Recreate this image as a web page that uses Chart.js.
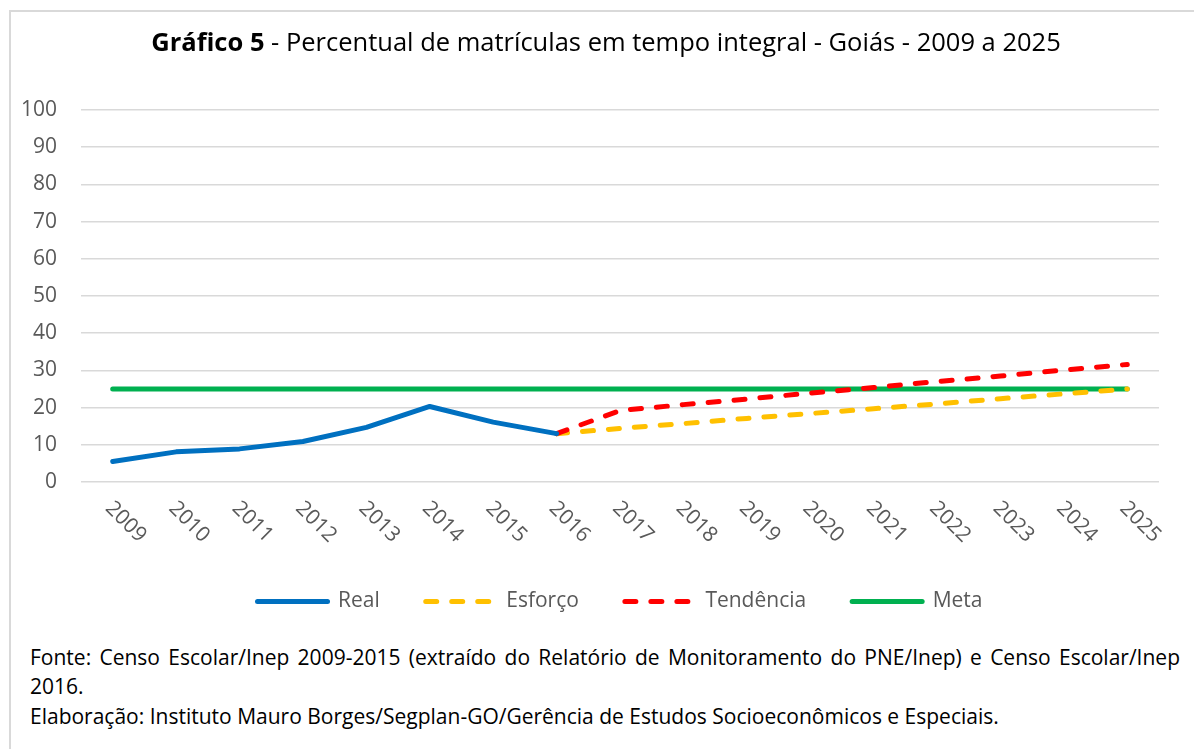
<!DOCTYPE html>
<html>
<head>
<meta charset="utf-8">
<script src="https://cdn.jsdelivr.net/npm/chart.js@4/dist/chart.umd.min.js"></script>
<style>
  html, body { margin: 0; padding: 0; background: #fff; width: 1194px; height: 749px; overflow: hidden; }
  #frame { position: absolute; left: 9px; top: 10px; width: 1200px; height: 800px; border-left: 2px solid #d9d9d9; border-top: 2px solid #d9d9d9; box-sizing: border-box; }
  #wrap { position: absolute; left: 0; top: 0; width: 1194px; height: 628px; }
  #title { position: absolute; left: 0; top: 24px; width: 1212px; text-align: center; font-family: "Open Sans", sans-serif; font-size: 25.5px; color: #000; white-space: nowrap; }
  .foot { position: absolute; left: 30px; font-family: "Open Sans", sans-serif; font-size: 21px; color: #000; white-space: nowrap; }
  #f1 { top: 643px; width: 1150px; text-align: justify; text-align-last: justify; white-space: normal; }
  #f2 { top: 672px; }
  #f3 { top: 702px; }
</style>
</head>
<body>
<div id="frame"></div>
<div id="wrap"><canvas id="c" width="1194" height="628"></canvas></div>
<div id="title"><b>Gráfico 5</b> - Percentual de matrículas em tempo integral - Goiás - 2009 a 2025</div>
<div class="foot" id="f1">Fonte: Censo Escolar/Inep 2009-2015 (extraído do Relatório de Monitoramento do PNE/Inep) e Censo Escolar/Inep</div>
<div class="foot" id="f2">2016.</div>
<div class="foot" id="f3">Elaboração: Instituto Mauro Borges/Segplan-GO/Gerência de Estudos Socioeconômicos e Especiais.</div>
<script>
const years = ['2009','2010','2011','2012','2013','2014','2015','2016','2017','2018','2019','2020','2021','2022','2023','2024','2025'];
const real = [5.5, 8.1, 8.9, 10.9, 14.7, 20.3, 16.1, 13.0, null, null, null, null, null, null, null, null, null];
const esforco = [null, null, null, null, null, null, null, 13.0, 14.4, 15.7, 17.1, 18.4, 19.7, 21.0, 22.4, 23.7, 25.0];
const tendencia = [null, null, null, null, null, null, null, 13.0, 19.2, 20.8, 22.3, 23.9, 25.4, 27.0, 28.5, 30.1, 31.6];
const meta = [25, 25, 25, 25, 25, 25, 25, 25, 25, 25, 25, 25, 25, 25, 25, 25, 25];
const yTicks = [0, 10, 20, 30, 40, 50, 60, 70, 80, 90, 100];
const legendOrder = ['Real', 'Esforço', 'Tendência', 'Meta'];

const FONT = '"Open Sans", sans-serif';
const GREY = '#595959';
const DASH = [11, 15];

const rotatedLabels = {
  id: 'rotatedLabels',
  afterDraw(chart) {
    const ctx = chart.ctx;
    const xs = chart.scales.x;
    const yBase = chart.chartArea.bottom;
    ctx.save();
    ctx.font = '21px ' + FONT;
    ctx.fillStyle = GREY;
    ctx.textAlign = 'left';
    ctx.textBaseline = 'middle';
    years.forEach((lab, i) => {
      const x = xs.getPixelForValue(i);
      ctx.save();
      ctx.translate(x - 4, yBase + 23);
      ctx.rotate(Math.PI / 4);
      ctx.fillText(lab, 0, 0);
      ctx.restore();
    });
    ctx.restore();
  }
};

const common = { pointRadius: 0, pointHoverRadius: 0, borderWidth: 5, fill: false, tension: 0, borderCapStyle: 'round', borderJoinStyle: 'round', spanGaps: false };

new Chart(document.getElementById('c'), {
  type: 'line',
  data: {
    labels: years,
    datasets: [
      Object.assign({ label: 'Meta', data: meta, borderColor: '#00B050', backgroundColor: '#00B050', order: 4 }, common),
      Object.assign({ label: 'Esforço', data: esforco, borderColor: '#FFC000', backgroundColor: '#FFC000', borderDash: DASH, order: 3 }, common),
      Object.assign({ label: 'Tendência', data: tendencia, borderColor: '#FF0000', backgroundColor: '#FF0000', borderDash: DASH, order: 2 }, common),
      Object.assign({ label: 'Real', data: real, borderColor: '#0070C0', backgroundColor: '#0070C0', order: 1 }, common)
    ]
  },
  options: {
    responsive: false,
    animation: false,
    events: [],
    layout: { padding: { top: 110, left: 0, right: 35, bottom: 6 } },
    scales: {
      x: {
        offset: true,
        grid: { display: false, drawTicks: false },
        border: { display: false },
        ticks: { display: false },
        afterFit(s) { s.height = 63; }
      },
      y: {
        min: 0, max: 100,
        afterBuildTicks(s) { s.ticks = yTicks.map(v => ({ value: v })); },
        grid: { color: '#d9d9d9', lineWidth: 1.5, drawTicks: false },
        border: { display: false },
        ticks: { padding: 24, color: GREY, font: { family: FONT, size: 21 } },
        afterFit(s) { s.width = 81; }
      }
    },
    plugins: {
      title: { display: false },
      tooltip: { enabled: false },
      legend: {
        position: 'bottom',
        fullSize: false,
        labels: {
          usePointStyle: true,
          pointStyle: 'line',
          pointStyleWidth: 70,
          boxWidth: 70,
          padding: 46,
          color: GREY,
          font: { family: FONT, size: 21 },
          generateLabels(chart) {
            const items = Chart.defaults.plugins.legend.labels.generateLabels(chart);
            return items.map(it => {
              const ds = chart.data.datasets[it.datasetIndex];
              it.lineDash = ds.borderDash || [];
              it.lineWidth = 5;
              it.lineCap = 'round';
              it.strokeStyle = ds.borderColor;
              it.fillStyle = ds.borderColor;
              it.pointStyle = 'line';
              return it;
            });
          },
          sort: (a, b) => legendOrder.indexOf(a.text) - legendOrder.indexOf(b.text)
        }
      }
    }
  },
  plugins: [rotatedLabels]
});
</script>
</body>
</html>
